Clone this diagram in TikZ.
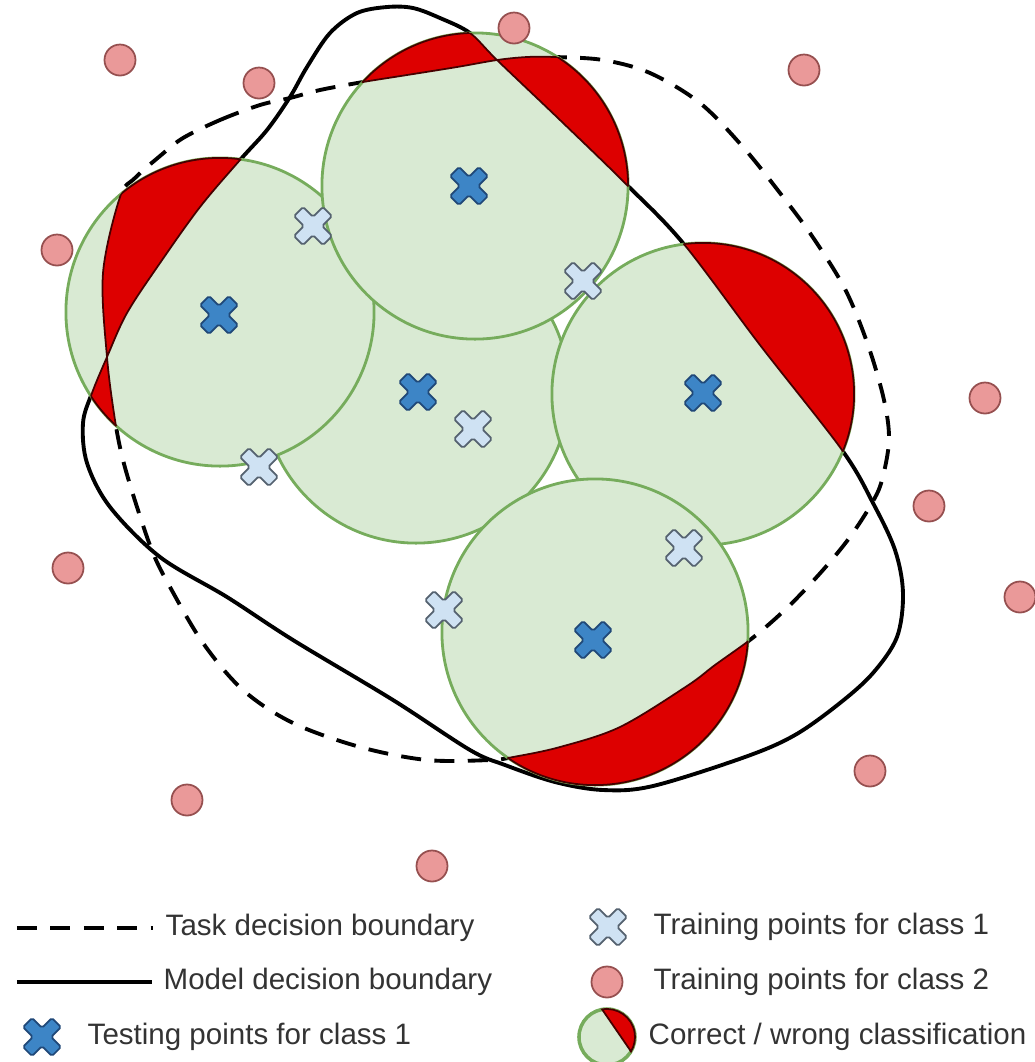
\documentclass[tikz,border=0pt]{standalone}
\usepackage{fontspec}
\setmainfont{Liberation Sans}
\usetikzlibrary{positioning}
\definecolor{cellgreen}{RGB}{217,234,211}
\definecolor{celledge}{RGB}{118,172,92}
\definecolor{wrongred}{RGB}{221,0,0}
\definecolor{cutedge}{RGB}{70,0,0}
\definecolor{testblue}{RGB}{61,133,198}
\definecolor{testedge}{RGB}{32,72,120}
\definecolor{trainblue}{RGB}{207,226,243}
\definecolor{trainedge}{RGB}{85,98,112}
\definecolor{classpink}{RGB}{234,153,153}
\definecolor{classedge}{RGB}{150,80,80}

% the two decision boundaries and the cells round the test points
\newcommand{\taskline}{plot[smooth cycle, tension=0.55] coordinates {(183,138) (220,120) (260,105) (290,98) (320,90) (363,82) (407,75) (457,67) (497,60) (527,57) (555,57) (603,60) (650,73) (700,103) (743,147) (780,193) (812,236) (845,289) (868,345) (884,400) (889,440) (882,480) (872,503) (850,537) (823,570) (790,605) (755,636) (715,665) (687,686) (620,727) (560,747) (513,757) (490,760) (427,760) (360,747) (293,723) (243,690) (203,643) (170,587) (153,553) (137,507) (123,460) (115,420) (107,357) (103,273) (120,197) (135,178) (160,156)}}
\newcommand{\modelline}{plot[smooth cycle, tension=0.55] coordinates {(413,8) (440,18) (470,33) (497,60) (560,120) (625,183) (683,243) (760,345) (842,450) (873,503) (895,550) (903,593) (897,637) (873,673) (840,703) (795,735) (745,757) (653,786) (603,790) (555,782) (505,765) (470,750) (393,700) (293,640) (227,597) (160,557) (110,507) (87,463) (83,423) (92,393) (107,357) (127,313) (160,263) (200,207) (240,160) (267,130) (290,97) (307,67) (330,33) (357,13) (387,7)}}
\newcommand{\cellarea}{(c3) circle[radius=1.53cm] (c2) circle[radius=1.54cm] (c1) circle[radius=1.53cm] (c4) circle[radius=1.51cm] (c5) circle[radius=1.53cm]}

\tikzset{
	cell/.style={fill=cellgreen, draw=celledge, line width=0.8pt},
	task/.style={line width=1.1pt, dash pattern=on 5.7pt off 3.8pt},
	model/.style={line width=1.1pt},
	cut/.style={draw=cutedge, line width=0.5pt},
	negpoint/.style={circle, fill=classpink, draw=classedge, line width=0.5pt, minimum size=0.31cm, inner sep=0pt},
	xmark/.pic={%
		\draw[rotate=45, rounded corners=0.5pt, line width=0.5pt, pic actions] (20.5,6.5) -- (6.5,6.5) -- (6.5,20.5) -- (-6.5,20.5) -- (-6.5,6.5) -- (-20.5,6.5) -- (-20.5,-6.5) -- (-6.5,-6.5) -- (-6.5,-20.5) -- (6.5,-20.5) -- (6.5,-6.5) -- (20.5,-6.5) -- cycle;%
	},
	legend/.style={anchor=west, inner sep=0pt, font=\fontsize{8.4}{10}\selectfont, text=black!80},
}

\begin{document}
\begin{tikzpicture}[x=0.01cm, y=-0.01cm]
	\useasboundingbox (0,0) rectangle (1035,1062);%
	%
	\coordinate (c1) at (475,186);%
	\coordinate (c2) at (220,312);%
	\coordinate (c3) at (416,390);%
	\coordinate (c4) at (703,394);%
	\coordinate (c5) at (595,632);%
	%
	\draw[task] \taskline;%
	\draw[model] \modelline;%
	%
	\foreach \c/\r in {c3/1.53, c2/1.54, c1/1.53, c4/1.51, c5/1.53}
		\draw[cell] (\c) circle[radius=\r cm];%
	%
	% wrong classification: between the boundaries, inside a cell
	\begin{scope}[even odd rule]
		\clip \taskline \modelline;%
		\fill[wrongred, nonzero rule] \cellarea;%
		\draw[cut] \cellarea;%
	\end{scope}%
	\begin{scope}
		\clip \cellarea;%
		\draw[cut] \taskline \modelline;%
	\end{scope}%
	%
	\foreach \p [count=\i] in {(469,186), (219,315), (418,392), (703,393), (593,640)}
		\pic[fill=testblue, draw=testedge] (test\i) at \p {xmark};%
	\foreach \p [count=\i] in {(313,226), (583,281), (259,467), (473,429), (684,548), (444,610)}
		\pic[fill=trainblue, draw=trainedge] (train\i) at \p {xmark};%
	\foreach \p [count=\i] in {(120,60), (259,83), (514,28), (804,70), (57,250), (985,398), (929,506), (1020,597), (68,568), (870,771), (187,800), (432,866)}
		\node[negpoint] (neg\i) at \p {};%
	%
	% legend
	\coordinate (taska) at (17,928);%
	\coordinate (taskb) at (153,928);%
	\draw[task] (taska) -- (taskb);%
	\node[legend, right=0.12cm of taskb] (tasklab) {Task decision boundary};%
	\coordinate (modela) at (17,982);%
	\coordinate (modelb) at (152,982);%
	\draw[model] (modela) -- (modelb);%
	\node[legend, right=0.11cm of modelb] (modellab) {Model decision boundary};%
	\pic[fill=testblue, draw=testedge] (testkey) at (42,1037) {xmark};%
	\node[legend] (testlab) at (87,1037) {Testing points for class 1};%
	%
	\pic[fill=trainblue, draw=trainedge] (trainkey) at (608,927) {xmark};%
	\node[legend] (trainlab) at (653,927) {Training points for class 1};%
	\node[negpoint] (negkey) at (607,982) {};%
	\node[legend] (neglab) at (653,982) {Training points for class 2};%
	\coordinate (cellkey) at (607,1037);%
	\draw[cell, line width=1pt] (cellkey) circle[radius=0.28cm];%
	\filldraw[wrongred, cut] ([shift={(100:0.28cm)}]cellkey) arc[start angle=100, end angle=-31, radius=0.28cm] -- cycle;%
	\node[legend] (celllab) at (648,1037) {Correct / wrong classification};%
\end{tikzpicture}
\end{document}
